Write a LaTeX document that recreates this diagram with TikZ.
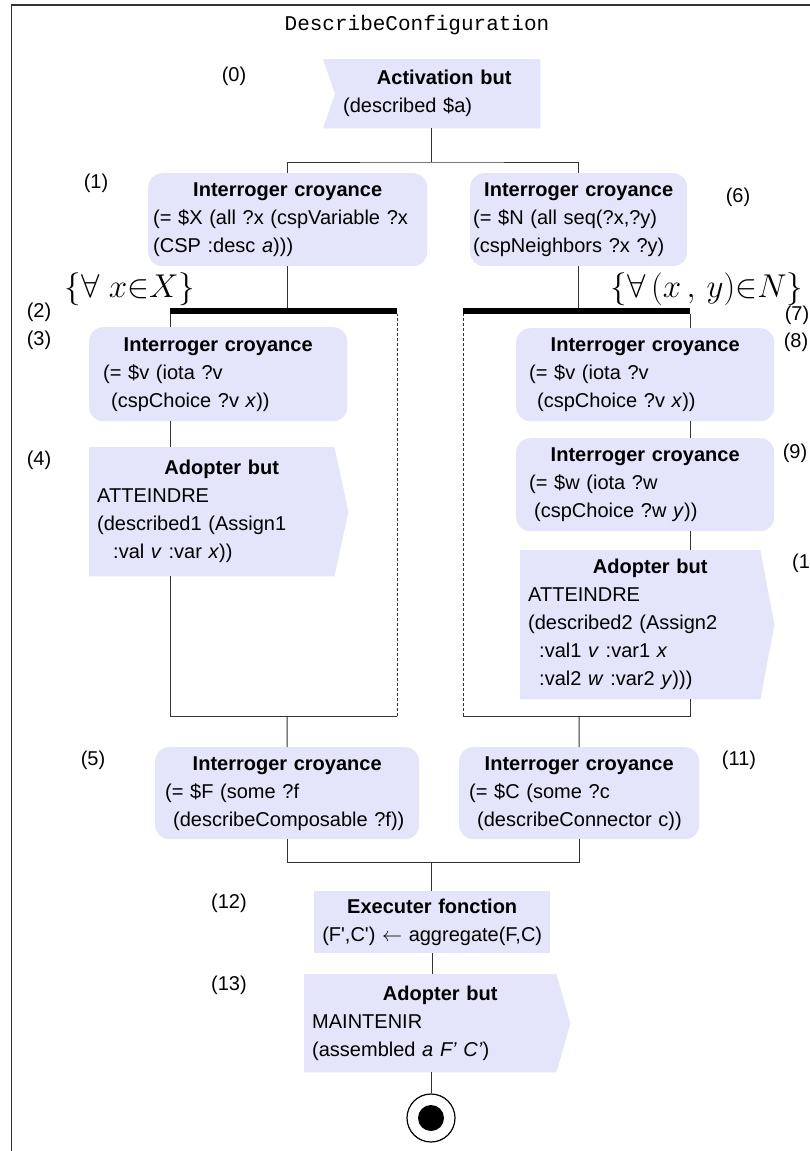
\RequirePackage{fix-cm}
\documentclass[tikz,border=0pt]{standalone}
\usepackage{fontspec}
\setmainfont{Liberation Sans}
\newfontfamily\titlefont{Liberation Mono}
\usetikzlibrary{backgrounds}
\definecolor{actfill}{HTML}{E4E4FA}
\definecolor{linegray}{HTML}{333333}
\newcommand{\acthead}[2][0pt]{\makebox[\hsize]{\hspace*{#1}\bfseries #2}}

\tikzset{
  actfont/.style={font=\fontsize{20}{28}\selectfont},
  act/.style={actfont, anchor=north west, inner sep=0pt, align=left,
    execute at begin node=\noindent},
  belief/.style={act, fill=actfill, rounded corners=14pt},
  goalbox/.style={act},
  numlabel/.style={actfont},
  setlabel/.style={font=\fontsize{33}{36}\selectfont},
  loopbar/.style={fill=black, inner sep=0pt, minimum height=6pt, anchor=west},
  flow/.style={draw=linegray, line width=1pt},
}

\begin{document}
\begin{tikzpicture}[x=1pt,y=-1pt]
  \useasboundingbox (0,0) rectangle (809,1151);
  % Rahmen und Titel
  \draw[line width=1.5pt, linegray] (11.7,1170) -- (11.7,5) -- (830,5);
  \node[font=\titlefont\fontsize{21}{24}\selectfont] (title) at (417,25) {DescribeConfiguration};

  % Knoten
  \node[goalbox, minimum width=205pt, minimum height=69pt, text width=189pt] (a0) at (335,59)
    {\acthead[13pt]{Activation but}\\(described \$a)};
  \node[belief, minimum width=279pt, minimum height=93pt, text width=269pt] (a1) at (148,173)
    {\acthead{Interroger croyance}\\(= \$X (all ?x (cspVariable ?x\\(CSP :desc \textit{a})))};
  \node[belief, minimum width=217pt, minimum height=93pt, text width=211pt] (a6) at (470,173)
    {\acthead{Interroger croyance}\\(= \$N (all seq(?x,?y)\\(cspNeighbors ?x ?y)};
  \node[loopbar, minimum width=227pt] (bar1) at (170,311) {};
  \node[loopbar, minimum width=227pt] (bar2) at (463,311) {};
  \node[belief, minimum width=258pt, minimum height=94pt, text width=230pt] (a3) at (89,327)
    {\acthead{Interroger croyance}\\(= \$v (iota ?v\\\hspace*{8pt}(cspChoice ?v \textit{x}))};
  \node[goalbox, minimum width=245pt, minimum height=129pt, text width=229pt] (a4) at (89,447)
    {\acthead[20pt]{Adopter but}\\ATTEINDRE\\(described1 (Assign1\\\hspace*{16pt}:val \textit{v} :var \textit{x}))};
  \node[belief, minimum width=258pt, minimum height=93pt, text width=232pt] (a8) at (516,328)
    {\acthead{Interroger croyance}\\(= \$v (iota ?v\\\hspace*{8pt}(cspChoice ?v \textit{x}))};
  \node[belief, minimum width=258pt, minimum height=93pt, text width=232pt] (a9) at (516,438)
    {\acthead{Interroger croyance}\\(= \$w (iota ?w\\\hspace*{5pt}(cspChoice ?w \textit{y}))};
  \node[goalbox, minimum width=240pt, minimum height=149pt, text width=224pt] (a10) at (520,550)
    {\acthead[20pt]{Adopter but}\\ATTEINDRE\\(described2 (Assign2\\\hspace*{11pt}:val1 \textit{v} :var1 \textit{x}\\\hspace*{11pt}:val2 \textit{w} :var2 \textit{y})))};
  \node[belief, minimum width=264pt, minimum height=92pt, text width=244pt] (a5) at (155,747)
    {\acthead{Interroger croyance}\\(= \$F (some ?f\\\hspace*{8pt}(describeComposable ?f))};
  \node[belief, minimum width=240pt, minimum height=92pt, text width=220pt] (a11) at (459,747)
    {\acthead{Interroger croyance}\\(= \$C (some ?c\\\hspace*{8pt}(describeConnector c))};
  \node[act, fill=actfill, align=center, minimum width=236pt, minimum height=62pt, text width=234pt] (a12) at (314,891)
    {\textbf{Executer fonction}\\(F\textquotesingle,C\textquotesingle) $\leftarrow$ aggregate(F,C)};
  \node[goalbox, minimum width=252pt, minimum height=98pt, text width=236pt] (a13) at (304,974)
    {\acthead[20pt]{Adopter but}\\MAINTENIR\\(assembled \textit{a F' C'})};
  \node[circle, draw=black, line width=1.2pt, minimum size=48pt, inner sep=0pt,
    path picture={\fill (path picture bounding box.center) circle (13pt);}] (stop) at (431,1118) {};

  % Formen der Signale
  \begin{scope}[on background layer]
    \fill[actfill] ([xshift=-12pt]a0.north west) -- (a0.north east) -- (a0.south east)
      -- ([xshift=-12pt]a0.south west) -- (a0.west) -- cycle;
    \foreach \n in {a4,a10,a13}
      \fill[actfill] (\n.north west) -- (\n.north east) -- ([xshift=14pt]\n.east)
        -- (\n.south east) -- (\n.south west) -- cycle;
  \end{scope}

  % Mengen
  \node[setlabel] (q1) at (130,289) {$\{\forall\;x{\in}X\}$};
  \node[setlabel] (q2) at (707,289) {$\{\forall\,(x\,,\,y){\in}N\}$};

  % Nummern
  \node[numlabel] (n0) at (234,76) {(0)};
  \node[numlabel] (n1) at (96,183) {(1)};
  \node[numlabel] (n2) at (39,312) {(2)};
  \node[numlabel] (n3) at (39,340) {(3)};
  \node[numlabel] (n4) at (39,460) {(4)};
  \node[numlabel] (n5) at (93,760) {(5)};
  \node[numlabel] (n6) at (738,197) {(6)};
  \node[numlabel] (n7) at (797,315) {(7)};
  \node[numlabel] (n8) at (796,342) {(8)};
  \node[numlabel] (n9) at (795,453) {(9)};
  \node[numlabel, anchor=west, inner xsep=0pt] (n10) at (792,563) {(10)};
  \node[numlabel] (n11) at (739,760) {(11)};
  \node[numlabel] (n12) at (229,903) {(12)};
  \node[numlabel] (n13) at (229,985) {(13)};

  % Verbindungen
  \coordinate (f0) at (431,162);
  \coordinate (j1) at (287,716);
  \coordinate (j2) at (579,716);
  \coordinate (f1) at (431,862);
  \draw[flow] (a0.south -| f0) -- (f0);
  \draw[flow] (a1.north) |- (f0) -| (a6.north);
  \draw[flow] (a1.south) -- (a1.south |- bar1.north);
  \draw[flow] (a6.south) -- (a6.south |- bar2.north);

  \draw[flow] (bar1.south west) -- (bar1.west |- a3.north);
  \draw[flow] (bar1.west |- a3.south) -- (bar1.west |- a4.north);
  \draw[flow] (bar1.west |- a4.south) |- (bar1.east |- j1);
  \draw[flow, densely dashed] (bar1.east |- j1) -- (bar1.south east);
  \draw[flow] (j1) -- (a5.north);

  \draw[flow] (bar2.south east) -- (bar2.east |- a8.north);
  \draw[flow] (bar2.east |- a8.south) -- (bar2.east |- a9.north);
  \draw[flow] (bar2.east |- a9.south) -- (bar2.east |- a10.north);
  \draw[flow] (bar2.east |- a10.south) |- (bar2.west |- j2);
  \draw[flow, densely dashed] (bar2.west |- j2) -- (bar2.south west);
  \draw[flow] (j2) -- (a11.north);

  \draw[flow] (a5.south) |- (f1) -| (a11.south);
  \draw[flow] (f1) -- (f1 |- a12.north);
  \draw[flow] (a12.south) -- (a12.south |- a13.north);
  \draw[flow] (a13.south -| stop) -- (stop.north);
\end{tikzpicture}
\end{document}
